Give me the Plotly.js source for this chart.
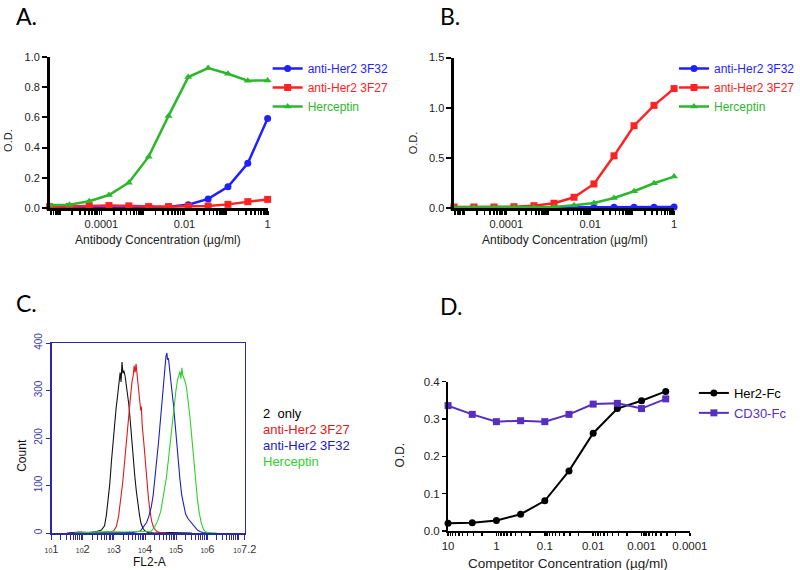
<!DOCTYPE html>
<html>
<head>
<meta charset="utf-8">
<script src="https://cdn.plot.ly/plotly-3.0.1.min.js"></script>
<style>
html,body{margin:0;padding:0;background:#fff;}
#chart{width:800px;height:570px;}
</style>
</head>
<body>
<div id="chart"></div>
<script>
// ---------- Panel A / B : ELISA dilution series (µg/ml) ----------
const concAB = [0.00000565, 0.0000169, 0.0000508, 0.000152, 0.000457, 0.00137, 0.00412, 0.0123, 0.037, 0.111, 0.333, 1];
const seriesNames = ['anti-Her2 3F32', 'anti-Her2 3F27', 'Herceptin'];

const a_3F32 = [0.006, 0.006, 0.006, 0.005, 0.005, 0.006, 0.008, 0.022, 0.06, 0.14, 0.296, 0.593];
const a_3F27 = [0.009, 0.009, 0.013, 0.016, 0.014, 0.009, 0.009, 0.011, 0.013, 0.024, 0.042, 0.057];
const a_Herc = [0.02, 0.022, 0.045, 0.086, 0.168, 0.34, 0.61, 0.867, 0.927, 0.889, 0.843, 0.845];

const b_3F32 = [0.005, 0.005, 0.005, 0.005, 0.005, 0.005, 0.005, 0.006, 0.008, 0.008, 0.008, 0.01];
const b_3F27 = [0.01, 0.01, 0.01, 0.013, 0.023, 0.047, 0.107, 0.24, 0.52, 0.82, 1.023, 1.19];
const b_Herc = [0.005, 0.005, 0.005, 0.005, 0.006, 0.01, 0.027, 0.05, 0.1, 0.167, 0.247, 0.313];

const abLabelVals = [0.0001, 0.01, 1];
const abLabelText = ['0.0001', '0.01', '1'];

// ---------- Panel C : flow cytometry histograms (log10 FL2-A, count) ----------
const cNames = ['2  only', 'anti-Her2 3F27', 'anti-Her2 3F32', 'Herceptin'];
const blackExp = [1.5,1.9,2.2,2.45,2.6,2.7,2.76,2.82,2.87,2.92,2.97,3.02,3.07,3.12,3.16,3.2,3.23,3.26,3.29,3.32,3.36,3.4,3.44,3.48,3.52,3.57,3.62,3.67,3.72,3.77,3.82,3.87,3.93,4.0,4.1,4.3,4.8,5.5];
const blackCnt = [0,2,1,3,6,15,38,70,105,150,190,230,262,290,322,338,318,360,336,342,330,312,298,270,240,195,160,120,88,60,38,20,10,4,1,0,1,0];
const redExp = [2.4,2.7,2.9,3.0,3.08,3.15,3.22,3.28,3.33,3.38,3.43,3.48,3.53,3.58,3.62,3.65,3.68,3.71,3.74,3.78,3.83,3.86,3.88,3.91,3.96,4.01,4.06,4.11,4.16,4.21,4.28,4.38,4.5,4.7];
const redCnt = [0,1,2,5,14,35,68,105,140,180,220,252,285,318,332,352,338,356,336,312,282,258,266,225,190,148,108,72,45,25,10,3,1,0];
const blueExp = [2.0,2.6,3.2,3.6,3.85,3.95,4.05,4.12,4.2,4.26,4.32,4.38,4.43,4.48,4.53,4.57,4.61,4.64,4.67,4.7,4.72,4.75,4.78,4.82,4.86,4.91,4.96,5.01,5.06,5.12,5.18,5.24,5.3,5.38,5.45,5.52,5.6,5.68,5.76,5.85,6.1];
const blueCnt = [1,0,1,1,4,12,22,35,55,80,115,150,190,228,268,305,332,350,372,379,365,368,345,325,300,270,232,192,150,112,78,55,40,30,24,20,12,6,3,1,0];
const greenExp = [1.7,2.3,2.8,3.3,3.8,4.2,4.3,4.4,4.5,4.6,4.68,4.75,4.82,4.88,4.94,4.99,5.04,5.08,5.12,5.15,5.18,5.21,5.25,5.29,5.33,5.38,5.43,5.48,5.53,5.58,5.63,5.68,5.74,5.8,5.87,5.93,6.0,6.3];
const greenCnt = [0,2,3,2,3,4,12,25,45,80,115,155,200,240,272,300,322,332,340,325,348,332,325,318,305,280,250,215,175,135,100,70,42,22,8,3,1,0];
const cLabelVals = [10, 100, 1000, 10000, 100000, 1000000, 15848932];
const cLabelExp = ['1', '2', '3', '4', '5', '6', '7.2'];

// ---------- Panel D : competition ELISA ----------
const concD = [10, 3.16, 1, 0.316, 0.1, 0.0316, 0.01, 0.00316, 0.001, 0.000316];
const d_Her2 = [0.0205, 0.022, 0.028, 0.045, 0.081, 0.161, 0.262, 0.328, 0.349, 0.374];
const d_CD30 = [0.336, 0.3125, 0.293, 0.2955, 0.293, 0.3125, 0.34, 0.342, 0.328, 0.354];
const dLabelVals = [10, 1, 0.1, 0.01, 0.001, 0.0001];
const dLabelText = ['10', '1', '0.1', '0.01', '0.001', '0.0001'];

// ---------- colours ----------
const cBlue = '#1f1fff', cRed = '#ff2222', cGreen = '#2cb82c';
const cPurple = '#5530c0';
const FONT = 'Liberation Sans, Arial, sans-serif';

function colored(txt, col){ return '<span style="color:' + col + '">' + txt + '</span>'; }

// log-axis tick positions: every decade and its 2..9 multiples; only labelled ones get text
function logTicks(kLo, kHi, labVals, labText){
  const vals = [], text = [];
  for (let k = kLo; k <= kHi; k++) {
    for (let m = 1; m <= 9; m++) {
      const v = m * Math.pow(10, k);
      vals.push(v);
      const idx = labVals.findIndex(l => Math.abs(l - v) / l < 1e-6);
      text.push(idx >= 0 ? labText[idx] : '');
    }
  }
  labVals.forEach((l, i) => { if (!vals.some(v => Math.abs(l - v) / l < 1e-6)) { vals.push(l); text.push(labText[i]); } });
  return {vals, text};
}

const traces = [];
function abTraces(xa, ya, leg, vals){
  const cols = [cBlue, cRed, cGreen];
  const syms = ['circle', 'square', 'triangle-up'];
  vals.forEach((v, i) => {
    traces.push({
      x: concAB, y: v, xaxis: xa, yaxis: ya, type: 'scatter', mode: 'lines+markers',
      name: colored(seriesNames[i], cols[i]), legend: leg,
      line: {color: cols[i], width: 2.5},
      marker: {color: cols[i], symbol: syms[i], size: 7},
      cliponaxis: false
    });
  });
}
abTraces('x', 'y', 'legend', [a_3F32, a_3F27, a_Herc]);
abTraces('x2', 'y2', 'legend2', [b_3F32, b_3F27, b_Herc]);

const hist = [[blackExp, blackCnt, '#111111'], [redExp, redCnt, '#e01818'], [blueExp, blueCnt, '#1c1cc0'], [greenExp, greenCnt, '#2ed02e']];
hist.forEach((h, i) => {
  traces.push({
    x: h[0].map(e => Math.pow(10, e)), y: h[1], xaxis: 'x3', yaxis: 'y3',
    type: 'scatter', mode: 'lines', name: cNames[i], showlegend: false,
    line: {color: h[2], width: 1.1}
  });
});

traces.push({
  x: concD, y: d_Her2, xaxis: 'x4', yaxis: 'y4', type: 'scatter', mode: 'lines+markers',
  name: colored('Her2-Fc', '#000000'), legend: 'legend3',
  line: {color: '#000000', width: 2}, marker: {color: '#000000', symbol: 'circle', size: 7},
  cliponaxis: false
});
traces.push({
  x: concD, y: d_CD30, xaxis: 'x4', yaxis: 'y4', type: 'scatter', mode: 'lines+markers',
  name: colored('CD30-Fc', cPurple), legend: 'legend3',
  line: {color: cPurple, width: 2}, marker: {color: cPurple, symbol: 'square', size: 7},
  cliponaxis: false
});

const W = 800, H = 570;
const px = v => v / W, py = v => 1 - v / H;

const abT = logTicks(-6, 0, abLabelVals, abLabelText);
const cT = logTicks(1, 7, cLabelVals, cLabelExp.map(e => '<span style="font-size:7px">10</span>' + e));
const dT = logTicks(-4, 1, dLabelVals, dLabelText);

function elisaX(dom, anchor){
  return {
    type: 'log', domain: dom, anchor: anchor, range: [-5.248, 0],
    showline: true, linecolor: '#000', linewidth: 2.5, showgrid: false, zeroline: false,
    tickmode: 'array', tickvals: abT.vals, ticktext: abT.text,
    ticks: 'outside', ticklen: 4, tickwidth: 1.8, tickcolor: '#000',
    tickfont: {family: FONT, size: 11, color: '#222'}
  };
}
function elisaY(dom, anchor, rng, vals, txt){
  return {
    domain: dom, anchor: anchor, range: rng,
    showline: true, linecolor: '#000', linewidth: 2.5, showgrid: false, zeroline: false,
    tickmode: 'array', tickvals: vals, ticktext: txt,
    ticks: 'outside', ticklen: 5, tickwidth: 2, tickcolor: '#000',
    tickfont: {family: FONT, size: 11, color: '#222'}
  };
}

const legendBase = {
  bgcolor: 'rgba(0,0,0,0)', borderwidth: 0, xanchor: 'left', yanchor: 'top',
  font: {family: FONT, size: 12, color: '#000'}, tracegroupgap: 0, itemwidth: 30
};

const layout = {
  width: W, height: H, margin: {l: 0, r: 0, t: 0, b: 0},
  paper_bgcolor: '#fff', plot_bgcolor: 'rgba(0,0,0,0)',
  font: {family: FONT, color: '#222'},
  xaxis: elisaX([px(50), px(270)], 'y'),
  yaxis: elisaY([py(208), py(57)], 'x', [0, 1.0], [0, 0.2, 0.4, 0.6, 0.8, 1.0], ['0.0', '0.2', '0.4', '0.6', '0.8', '1.0']),
  xaxis2: elisaX([px(458), px(680)], 'y2'),
  yaxis2: elisaY([py(208), py(57.5)], 'x2', [0, 1.5], [0, 0.5, 1.0, 1.5], ['0.0', '0.5', '1.0', '1.5']),
  xaxis3: {
    type: 'log', domain: [px(52), px(247)], anchor: 'y3', range: [1, 7.2],
    showline: true, mirror: true, linecolor: '#2a2aa8', linewidth: 1.5, showgrid: false, zeroline: false,
    tickmode: 'array', tickvals: cT.vals, ticktext: cT.text,
    ticks: 'outside', ticklen: 5, tickwidth: 1, tickcolor: '#2a2aa8',
    tickfont: {family: FONT, size: 11, color: '#333'}
  },
  yaxis3: {
    domain: [py(533), py(343)], anchor: 'x3', range: [0, 400],
    showline: true, mirror: true, linecolor: '#2a2aa8', linewidth: 1.5, showgrid: false, zeroline: false,
    tickmode: 'array', tickvals: [0, 100, 200, 300, 400], tickangle: -90,
    ticks: 'outside', ticklen: 4, tickwidth: 1, tickcolor: '#2a2aa8',
    tickfont: {family: FONT, size: 10, color: '#3a3aa8'}
  },
  xaxis4: {
    type: 'log', domain: [px(452), px(696)], anchor: 'y4', range: [1, -4],
    showline: true, linecolor: '#000', linewidth: 2, showgrid: false, zeroline: false,
    tickmode: 'array', tickvals: dT.vals, ticktext: dT.text,
    ticks: 'outside', ticklen: 3, tickwidth: 1.5, tickcolor: '#000',
    tickfont: {family: FONT, size: 11.5, color: '#222'}
  },
  yaxis4: {
    domain: [py(531), py(381.7)], anchor: 'x4', range: [0, 0.4],
    showline: true, linecolor: '#000', linewidth: 2, showgrid: false, zeroline: false,
    tickmode: 'array', tickvals: [0, 0.1, 0.2, 0.3, 0.4], ticktext: ['0.0', '0.1', '0.2', '0.3', '0.4'],
    ticks: 'outside', ticklen: 4, tickwidth: 1.5, tickcolor: '#000',
    tickfont: {family: FONT, size: 11.5, color: '#222'}
  },
  legend: Object.assign({}, legendBase, {x: px(270), y: py(54)}),
  legend2: Object.assign({}, legendBase, {x: px(680), y: py(54)}),
  legend3: Object.assign({}, legendBase, {x: px(700), y: py(378), font: {family: FONT, size: 13, color: '#000'}}),
  annotations: [
    {text: 'A.', x: px(14), y: py(16), xanchor: 'left', yanchor: 'middle', font: {family: 'Lato, sans-serif', size: 23, color: '#000'}},
    {text: 'B.', x: px(442), y: py(16), xanchor: 'left', yanchor: 'middle', font: {family: 'Lato, sans-serif', size: 23, color: '#000'}},
    {text: 'C.', x: px(14), y: py(303), xanchor: 'left', yanchor: 'middle', font: {family: 'Lato, sans-serif', size: 23, color: '#000'}},
    {text: 'D.', x: px(442), y: py(306), xanchor: 'left', yanchor: 'middle', font: {family: 'Lato, sans-serif', size: 23, color: '#000'}},
    {text: 'O.D.', x: px(8), y: py(140), textangle: -90, xanchor: 'center', yanchor: 'middle', font: {family: FONT, size: 11, color: '#222'}},
    {text: 'O.D.', x: px(417), y: py(143), textangle: -90, xanchor: 'center', yanchor: 'middle', font: {family: FONT, size: 11, color: '#222'}},
    {text: 'O.D.', x: px(404), y: py(455), textangle: -90, xanchor: 'center', yanchor: 'middle', font: {family: FONT, size: 12, color: '#222'}},
    {text: 'Count', x: px(22), y: py(455), textangle: -90, xanchor: 'center', yanchor: 'middle', font: {family: FONT, size: 12, color: '#111'}},
    {text: 'Antibody Concentration (µg/ml)', x: px(159), y: py(240), xanchor: 'center', yanchor: 'middle', font: {family: FONT, size: 12, color: '#222'}},
    {text: 'Antibody Concentration (µg/ml)', x: px(570), y: py(240), xanchor: 'center', yanchor: 'middle', font: {family: FONT, size: 12, color: '#222'}},
    {text: 'FL2-A', x: px(151), y: py(562), xanchor: 'center', yanchor: 'middle', font: {family: FONT, size: 12, color: '#111'}},
    {text: 'Competitor Concentration (µg/ml)', x: px(573), y: py(563), xanchor: 'center', yanchor: 'middle', font: {family: FONT, size: 13.5, color: '#222'}},
    {text: cNames[0], x: px(263), y: py(413), xanchor: 'left', yanchor: 'middle', font: {family: FONT, size: 13, color: '#000'}},
    {text: cNames[1], x: px(263), y: py(429), xanchor: 'left', yanchor: 'middle', font: {family: FONT, size: 13, color: '#e01818'}},
    {text: cNames[2], x: px(263), y: py(445), xanchor: 'left', yanchor: 'middle', font: {family: FONT, size: 13, color: '#1c1cc0'}},
    {text: cNames[3], x: px(263), y: py(461), xanchor: 'left', yanchor: 'middle', font: {family: FONT, size: 13, color: '#2ed02e'}}
  ].map(a => Object.assign({xref: 'paper', yref: 'paper', showarrow: false}, a))
};

Plotly.newPlot('chart', traces, layout, {staticPlot: true, displayModeBar: false});
</script>
</body>
</html>
